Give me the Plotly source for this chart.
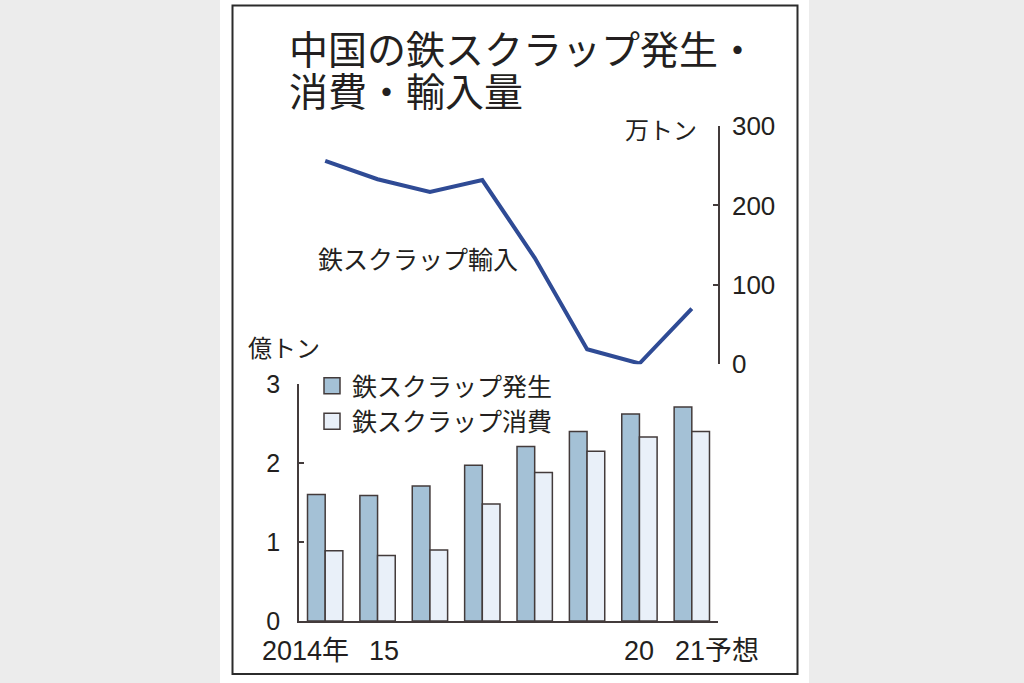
import plotly.graph_objects as go

# ---- data ----
categories = ["2014", "2015", "2016", "2017", "2018", "2019", "2020", "2021"]
scrap_generation = [1.60, 1.59, 1.71, 1.97, 2.21, 2.40, 2.62, 2.71]   # 億トン
scrap_consumption = [0.89, 0.83, 0.90, 1.48, 1.88, 2.15, 2.33, 2.40]  # 億トン
scrap_imports = [256, 233, 217, 232, 134, 19, 1, 70]                   # 万トン
label_categories = ["2014", "2015", "2020", "2021"]
label_texts = ["2014年", "15", "20", "21予想"]
bar_ticks = [0, 1, 2, 3]
line_ticks = [0, 100, 200, 300]

W, H = 1024, 683
def px(x):
    return x / W
def py(y):
    return 1 - y / H

TXT = "#231f20"
AX = "#433b3b"
FONT = "Liberation Sans, Noto Sans CJK JP, sans-serif"
NARROW = "Liberation Sans Narrow, Arial Narrow, Liberation Sans, Noto Sans CJK JP, sans-serif"
CJK = "Noto Sans CJK JP, sans-serif"
GEN_COLOR = "#a4c1d6"
CON_COLOR = "#e9f0f9"
LINE_COLOR = "#2f4b95"

fig = go.Figure()

fig.add_trace(go.Bar(x=categories, y=scrap_generation, name="鉄スクラップ発生",
                     marker=dict(color=GEN_COLOR, line=dict(color=AX, width=1.5)),
                     xaxis="x", yaxis="y", showlegend=False))
fig.add_trace(go.Bar(x=categories, y=scrap_consumption, name="鉄スクラップ消費",
                     marker=dict(color=CON_COLOR, line=dict(color=AX, width=1.5)),
                     xaxis="x", yaxis="y", showlegend=False))
# legend entries (larger squares than plotly's default bar swatch)
fig.add_trace(go.Scatter(x=[None], y=[None], mode="markers", name="鉄スクラップ発生",
                         marker=dict(symbol="square", size=16, color=GEN_COLOR,
                                     line=dict(color=AX, width=1.5)),
                         xaxis="x", yaxis="y"))
fig.add_trace(go.Scatter(x=[None], y=[None], mode="markers", name="鉄スクラップ消費",
                         marker=dict(symbol="square", size=16, color=CON_COLOR,
                                     line=dict(color=AX, width=1.5)),
                         xaxis="x", yaxis="y"))
fig.add_trace(go.Scatter(x=categories, y=scrap_imports, mode="lines",
                         line=dict(color=LINE_COLOR, width=4),
                         xaxis="x2", yaxis="y2", showlegend=False))

x_dom = [px(299), px(718)]
fig.update_layout(
    width=W, height=H,
    margin=dict(l=0, r=0, t=0, b=0, autoexpand=False),
    paper_bgcolor="#ececec",
    plot_bgcolor="rgba(0,0,0,0)",
    barmode="group", bargap=0.325, bargroupgap=0,
    font=dict(family=FONT, color=TXT),
    xaxis=dict(domain=x_dom, anchor="y", type="category", categoryorder="array",
               categoryarray=categories, range=[-0.5, 7.5], automargin=False,
               showline=True, linecolor=AX, linewidth=1.5, ticks="",
               showticklabels=False, showgrid=False, zeroline=False, fixedrange=True),
    yaxis=dict(domain=[py(621), py(384)], anchor="x", range=[0, 3], automargin=False,
               tickvals=bar_ticks, showline=True, linecolor=AX, linewidth=1.5,
               ticks="inside", ticklen=5, tickwidth=1.5, tickcolor=AX,
               ticklabelstandoff=12,
               tickfont=dict(size=25, family=FONT, color=TXT),
               showgrid=False, zeroline=False),
    xaxis2=dict(domain=x_dom, anchor="y2", type="category", categoryorder="array",
                categoryarray=categories, range=[-0.5, 7.5], automargin=False,
                showline=False, showticklabels=False, ticks="", showgrid=False,
                zeroline=False),
    yaxis2=dict(domain=[py(364.3), py(126)], anchor="x2", side="right", range=[0, 300],
                automargin=False,
                tickvals=line_ticks, showline=True, linecolor=AX, linewidth=1.5,
                ticks="inside", ticklen=5, tickwidth=1.5, tickcolor=AX,
                ticklabelstandoff=7,
                tickfont=dict(size=26, family=FONT, color=TXT),
                showgrid=False, zeroline=False),
    legend=dict(x=px(312), y=py(363), xanchor="left", yanchor="top",
                bgcolor="rgba(0,0,0,0)", borderwidth=0,
                font=dict(size=25, family=CJK, color=TXT),
                itemsizing="trace"),
    shapes=[
        dict(type="rect", xref="paper", yref="paper", x0=px(220), x1=px(809),
             y0=0, y1=1, fillcolor="white", line=dict(width=0), layer="below"),
        dict(type="rect", xref="paper", yref="paper", x0=px(232.5), x1=px(797.5),
             y0=py(674), y1=py(5.5), fillcolor="rgba(0,0,0,0)",
             line=dict(color="#2b2b2b", width=2), layer="above"),
    ],
)

ann = []
ann.append(dict(text="中国の鉄スクラップ発生・", x=px(287), y=py(47), xref="paper", yref="paper",
                xanchor="left", yanchor="middle", showarrow=False,
                font=dict(size=39, family=CJK, color=TXT)))
ann.append(dict(text="消費・輸入量", x=px(287), y=py(89), xref="paper", yref="paper",
                xanchor="left", yanchor="middle", showarrow=False,
                font=dict(size=39, family=CJK, color=TXT)))
ann.append(dict(text="万トン", x=px(699), y=py(128), xref="paper", yref="paper",
                xanchor="right", yanchor="middle", showarrow=False,
                font=dict(size=24, family=CJK, color=TXT)))
ann.append(dict(text="億トン", x=px(246), y=py(346), xref="paper", yref="paper",
                xanchor="left", yanchor="middle", showarrow=False,
                font=dict(size=24, family=CJK, color=TXT)))
ann.append(dict(text="鉄スクラップ輸入", x=px(316), y=py(258), xref="paper", yref="paper",
                xanchor="left", yanchor="middle", showarrow=False,
                font=dict(size=25, family=CJK, color=TXT)))

label_style = {"2014": ("right", 26), "2015": ("center", 6),
               "2020": ("center", 0), "2021": ("left", -19)}
for cat, txt in zip(label_categories, label_texts):
    anchor, shift = label_style[cat]
    ann.append(dict(text=txt, x=categories.index(cat), xref="x", y=py(651), yref="paper",
                    xanchor=anchor, yanchor="middle", xshift=shift, showarrow=False,
                    font=dict(size=27, family=NARROW, color=TXT)))
fig.update_layout(annotations=ann)

fig.write_html("out.html")
